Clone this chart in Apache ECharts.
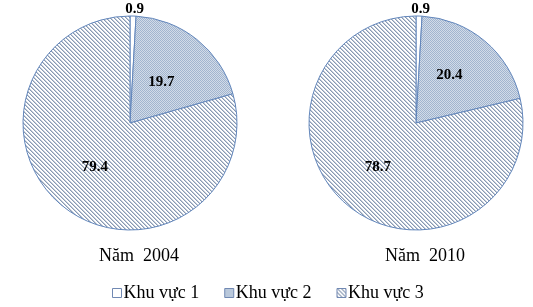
<!DOCTYPE html>
<html><head><meta charset="utf-8">
<script src="https://cdn.jsdelivr.net/npm/echarts@6/dist/echarts.min.js"></script>
<style>html,body{margin:0;padding:0;background:#fff}#c{width:533px;height:307px}</style>
</head><body><div id="c"></div>
<script>
const categories = ['Khu vực 1', 'Khu vực 2', 'Khu vực 3'];
const years = ['Năm  2004', 'Năm  2010'];
const values2004 = [0.9, 19.7, 79.4];
const values2010 = [0.9, 20.4, 78.7];

function makePattern(size, fn) {
  const cv = document.createElement('canvas');
  cv.width = size; cv.height = size;
  const ctx = cv.getContext('2d');
  for (let y = 0; y < size; y++) for (let x = 0; x < size; x++) {
    ctx.fillStyle = fn(x, y);
    ctx.fillRect(x, y, 1, 1);
  }
  return { image: cv, repeat: 'repeat' };
}
const dotPat = makePattern(2, (x, y) => ((x + y) % 2 === 0 ? '#a1b5cf' : '#d2dbe8'));
const hatchPat = makePattern(4, (x, y) => {
  const d = ((x - y) % 4 + 4) % 4;
  return d === 0 ? '#8899b2' : (d === 1 ? '#c3ccd9' : '#ffffff');
});
const fills = ['#ffffff', dotPat, hatchPat];
const border = '#6286bb';

const labelOffsets = [
  [[3, -57], [-4, 3], [-1, -1]],
  [[3, -57], [-3, -5], [-3, 0]]
];

function buildData(vals, si) {
  return vals.map((v, i) => ({
    name: categories[i],
    value: v,
    itemStyle: { color: fills[i], borderColor: border, borderWidth: 1 },
    label: { offset: labelOffsets[si][i] }
  }));
}

const chart = echarts.init(document.getElementById('c'), null, { renderer: 'canvas' });
const serif = '"Liberation Serif", "Times New Roman", serif';
chart.setOption({
  animation: false,
  title: [
    { text: years[0], left: 139, top: 247, textAlign: 'center', padding: 0,
      textStyle: { fontFamily: serif, fontSize: 18, fontWeight: 'normal', color: '#000' } },
    { text: years[1], left: 425, top: 247, textAlign: 'center', padding: 0,
      textStyle: { fontFamily: serif, fontSize: 18, fontWeight: 'normal', color: '#000' } }
  ],
  legend: {
    data: categories,
    left: 112, top: 284, padding: 0,
    itemWidth: 9, itemHeight: 9, itemGap: 25,
    icon: 'rect',
    itemStyle: { borderWidth: 1, borderColor: '#7189b3' },
    textStyle: { fontFamily: serif, fontSize: 18, color: '#000', padding: [0, 0, 0, -3] }
  },
  series: [
    { type: 'pie', center: [130, 123], radius: 107, startAngle: 90, clockwise: true,
      data: buildData(values2004, 0),
      label: { position: 'inside', formatter: '{c}', fontFamily: serif, fontWeight: 'bold', fontSize: 15, color: '#000' },
      labelLine: { show: false }, emphasis: { disabled: true } },
    { type: 'pie', center: [416, 123], radius: 107, startAngle: 90, clockwise: true,
      data: buildData(values2010, 1),
      label: { position: 'inside', formatter: '{c}', fontFamily: serif, fontWeight: 'bold', fontSize: 15, color: '#000' },
      labelLine: { show: false }, emphasis: { disabled: true } }
  ]
});
</script></body></html>
